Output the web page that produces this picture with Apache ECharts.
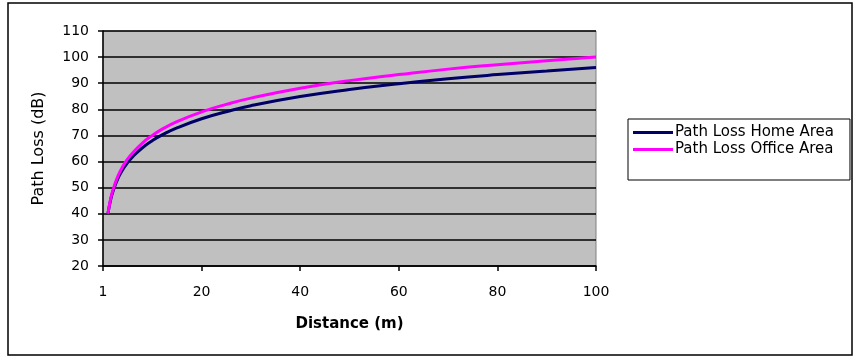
<!DOCTYPE html>
<html>
<head>
<meta charset="utf-8">
<script src="https://cdn.jsdelivr.net/npm/echarts@6/dist/echarts.min.js"></script>
<style>
  html, body { margin: 0; padding: 0; background: #fff; }
  #chart { width: 854px; height: 358px; }
</style>
</head>
<body>
<div id="chart"></div>
<script>
var distance = [1, 1.5, 2, 3, 4, 5, 6, 8, 10, 12, 15, 20, 25, 30, 40, 50, 60, 70, 80, 90, 100];
var homeLoss = [40, 44.9, 48.4, 53.4, 56.9, 59.6, 61.8, 65.3, 68, 70.2, 72.9, 76.4, 79.1, 81.4, 84.9, 87.6, 89.8, 91.7, 93.3, 94.7, 96];
var officeLoss = [40, 45.3, 49, 54.3, 58.1, 61, 63.3, 67.1, 70, 72.4, 75.3, 79, 81.9, 84.3, 88.1, 91, 93.3, 95.4, 97.1, 98.6, 100];
var xTickLabels = ['1', '20', '40', '60', '80', '100'];
var seriesNames = ['Path Loss Home Area', 'Path Loss Office Area'];

function pairs(ys) {
  return distance.map(function (d, i) { return [d, ys[i]]; });
}

var chart = echarts.init(document.getElementById('chart'));
var font = 'DejaVu Sans';

chart.setOption({
  backgroundColor: '#fff',
  animation: false,
  graphic: [
    {
      type: 'rect',
      shape: { x: 8, y: 3, width: 844, height: 352 },
      style: { fill: 'none', stroke: '#000', lineWidth: 1.5 },
      z: -1
    }
  ],
  grid: {
    left: 103,
    top: 31,
    right: 258,
    bottom: 92,
    show: true,
    backgroundColor: '#c0c0c0',
    borderColor: '#808080',
    borderWidth: 1
  },
  legend: {
    orient: 'vertical',
    left: 628,
    top: 119,
    padding: [5, 16, 22, 5],
    icon: 'rect',
    itemWidth: 40,
    itemHeight: 3,
    itemGap: 0,
    borderColor: '#000',
    borderWidth: 1,
    backgroundColor: '#fff',
    data: seriesNames,
    textStyle: { fontFamily: font, fontSize: 15, lineHeight: 17, color: '#000', padding: [0, 0, 0, -3] }
  },
  xAxis: {
    type: 'value',
    min: 0,
    max: 100,
    interval: 20,
    name: 'Distance (m)',
    nameLocation: 'middle',
    nameGap: 51,
    nameTextStyle: { fontFamily: font, fontSize: 15, fontWeight: 'bold', color: '#000' },
    splitLine: { show: false },
    axisLine: { onZero: false, lineStyle: { color: '#000', width: 1.5 } },
    axisTick: { length: 5, lineStyle: { color: '#000', width: 1.5 } },
    axisLabel: {
      margin: 19,
      fontFamily: font,
      fontSize: 14,
      color: '#000',
      formatter: function (v) { return xTickLabels[Math.round(v / 20)]; }
    }
  },
  yAxis: {
    type: 'value',
    min: 20,
    max: 110,
    interval: 10,
    name: 'Path Loss (dB)',
    nameLocation: 'middle',
    nameGap: 56,
    nameTextStyle: { fontFamily: font, fontSize: 16, color: '#000' },
    splitLine: { show: true, lineStyle: { color: '#000', width: 1.5 } },
    axisLine: { show: true, lineStyle: { color: '#000', width: 1.5 } },
    axisTick: { show: true, length: 5, lineStyle: { color: '#000', width: 1.5 } },
    axisLabel: { margin: 14, fontFamily: font, fontSize: 14, color: '#000' }
  },
  series: [
    {
      name: seriesNames[0],
      type: 'line',
      smooth: true,
      showSymbol: false,
      symbol: 'none',
      data: pairs(homeLoss),
      itemStyle: { color: '#000066' },
      lineStyle: { color: '#000066', width: 3 }
    },
    {
      name: seriesNames[1],
      type: 'line',
      smooth: true,
      showSymbol: false,
      symbol: 'none',
      data: pairs(officeLoss),
      itemStyle: { color: '#ff00ff' },
      lineStyle: { color: '#ff00ff', width: 3 }
    }
  ]
});
</script>
</body>
</html>
